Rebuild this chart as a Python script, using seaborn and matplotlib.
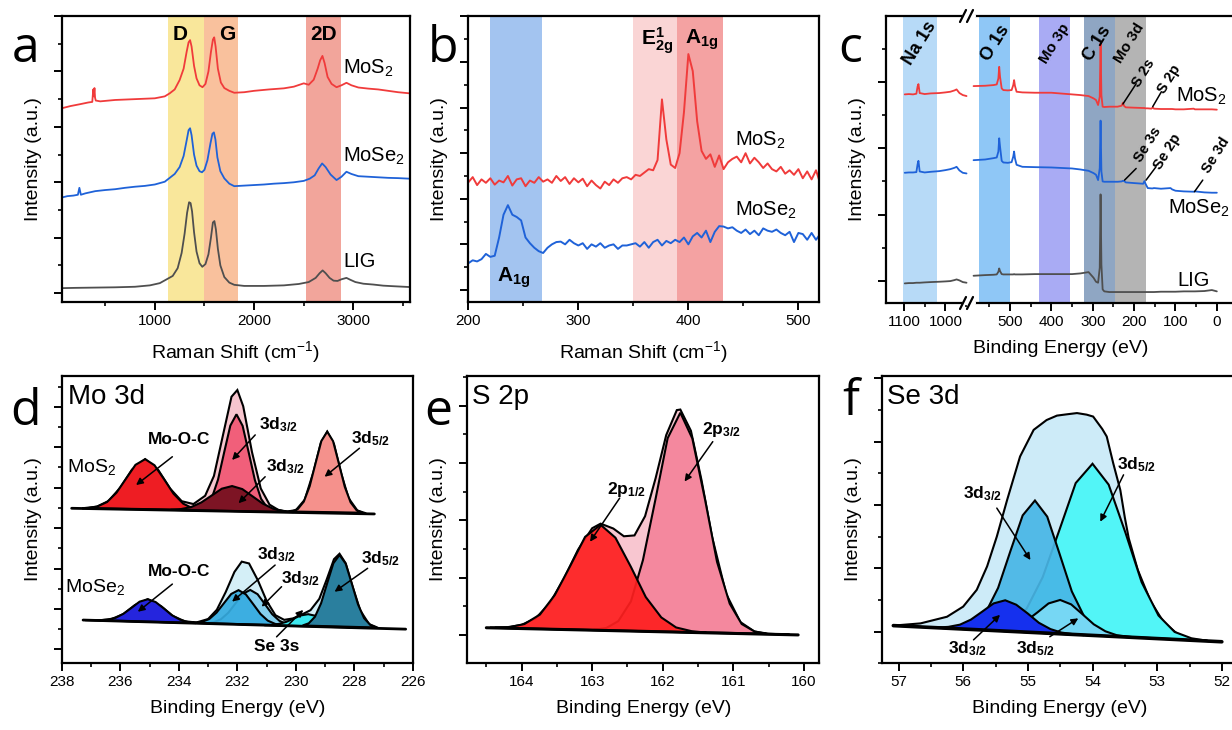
import matplotlib
matplotlib.use("Agg")
import matplotlib.pyplot as plt
import seaborn as sns
from matplotlib.colors import to_rgba
from matplotlib.lines import Line2D
from matplotlib.ticker import MultipleLocator, NullLocator

# ---------------- (a) Raman, wide range ----------------
a_lig_x = [62, 200, 400, 600, 800, 950, 1050, 1120, 1180, 1230, 1270, 1300, 1325, 1345, 1360,
           1375, 1395, 1420, 1450, 1478, 1510, 1540, 1565, 1585, 1600, 1615, 1635, 1660, 1700, 1750,
           1800, 1900, 2100, 2300, 2450, 2550, 2620, 2660, 2690, 2720, 2760, 2800, 2840, 2880, 2930,
           2970, 3020, 3100, 3200, 3300, 3400, 3565]
a_lig_y = [0.18, 0.19, 0.2, 0.21, 0.23, 0.28, 0.36, 0.5, 0.62, 0.9, 1.45, 2.15, 2.9, 3.28, 3.25,
           2.95, 2.2, 1.5, 1.08, 0.95, 1.05, 1.4, 2.0, 2.55, 2.6, 2.3, 1.6, 1.0, 0.58, 0.38,
           0.3, 0.26, 0.26, 0.28, 0.33, 0.4, 0.55, 0.72, 0.82, 0.72, 0.55, 0.45, 0.44, 0.5, 0.55,
           0.48, 0.4, 0.34, 0.31, 0.27, 0.25, 0.22]
a_mose2_x = [62, 120, 180, 225, 240, 255, 300, 400, 500, 600, 700, 800, 900, 1000, 1100,
             1200, 1250, 1290, 1320, 1340, 1355, 1370, 1395, 1420, 1450, 1475, 1500, 1530, 1560, 1580,
             1595, 1610, 1630, 1660, 1700, 1750, 1800, 1900, 2000, 2100, 2200, 2300, 2400, 2500, 2560,
             2610, 2650, 2685, 2720, 2770, 2830, 2880, 2930, 2980, 3050, 3150, 3250, 3350, 3450, 3565]
a_mose2_y = [3.45, 3.5, 3.52, 3.55, 3.8, 3.55, 3.6, 3.68, 3.72, 3.75, 3.8, 3.84, 3.87, 3.92, 4.02,
             4.3, 4.55, 4.95, 5.5, 5.88, 5.95, 5.7, 5.0, 4.6, 4.4, 4.36, 4.45, 4.8, 5.4, 5.75,
             5.8, 5.55, 4.9, 4.4, 4.14, 3.95, 3.86, 3.88, 3.9, 3.92, 3.95, 3.97, 4.0, 4.05, 4.13,
             4.25, 4.5, 4.68, 4.55, 4.28, 4.08, 4.2, 4.38, 4.3, 4.22, 4.2, 4.18, 4.16, 4.15, 4.13]
a_mos2_x = [62, 150, 250, 330, 370, 380, 385, 392, 398, 405, 450, 600, 800, 1000, 1100,
            1150, 1200, 1250, 1290, 1320, 1340, 1355, 1370, 1395, 1420, 1450, 1480, 1510, 1540, 1565,
            1585, 1598, 1612, 1635, 1665, 1700, 1750, 1800, 1900, 2000, 2150, 2300, 2400, 2500, 2550,
            2600, 2640, 2665, 2688, 2710, 2740, 2780, 2830, 2880, 2930, 2980, 3050, 3150, 3250, 3350,
            3450, 3565]
a_mos2_y = [6.67, 6.75, 6.82, 6.88, 6.9, 7.35, 7.1, 7.4, 7.05, 6.95, 6.92, 6.97, 7.0, 7.03, 7.1,
            7.21, 7.35, 7.69, 8.1, 8.7, 9.05, 9.13, 8.9, 8.2, 7.75, 7.5, 7.43, 7.55, 8.0, 8.7,
            9.15, 9.23, 8.9, 8.1, 7.6, 7.4, 7.3, 7.23, 7.25, 7.3, 7.35, 7.39, 7.45, 7.57, 7.52,
            7.7, 8.1, 8.4, 8.56, 8.3, 7.8, 7.55, 7.43, 7.5, 7.59, 7.5, 7.42, 7.38, 7.35, 7.3,
            7.25, 7.21]
# band: start, end, colour, label, label x
a_bands = [(1134, 1492, "#F9E79B", "D", 1258), (1492, 1838, "#F9C19D", "G", 1727),
           (2524, 2873, "#F2A59B", "2D", 2698)]

# ---------------- (b) Raman, low range ----------------
b_shift = [200, 204, 208, 212, 216, 220, 224, 228, 232, 236, 240, 244, 248, 252, 256, 260,
           264, 268, 272, 276, 280, 284, 288, 292, 296, 300, 304, 308, 312, 316, 320, 324,
           328, 332, 336, 340, 344, 348, 352, 356, 360, 364, 368, 372, 376, 380, 384, 388,
           392, 396, 400, 404, 408, 412, 416, 420, 424, 428, 432, 436, 440, 444, 448, 452,
           456, 460, 464, 468, 472, 476, 480, 484, 488, 492, 496, 500, 504, 508, 512, 516, 519]
b_mos2 = [4.72, 4.95, 4.6, 4.85, 4.7, 4.9, 4.62, 4.8, 4.72, 5.0, 4.58, 4.85, 4.9, 4.55, 4.8, 4.7,
          4.95, 4.75, 4.85, 4.7, 5.0, 4.78, 4.95, 4.65, 4.9, 4.72, 4.88, 4.55, 4.8, 4.6, 4.45, 4.75,
          4.6, 4.85, 4.7, 4.9, 4.95, 4.85, 5.05, 5.0, 5.15, 5.3, 5.25, 5.7, 8.36, 6.6, 5.5, 5.35,
          6.0, 7.8, 10.35, 9.6, 7.4, 6.1, 5.75, 5.95, 5.4, 5.9, 5.3, 5.6, 5.75, 5.85, 5.6, 6.0,
          5.55, 5.8, 5.6, 5.35, 5.55, 5.3, 5.2, 5.4, 5.1, 5.25, 5.05, 5.3, 4.9, 5.2, 4.85, 5.25, 4.8]
b_mose2 = [1.17, 1.3, 1.25, 1.35, 1.58, 1.45, 1.5, 2.3, 3.3, 3.72, 3.3, 3.2, 3.05, 2.3, 2.05, 1.85,
           1.7, 1.62, 1.85, 2.0, 2.1, 2.12, 2.0, 2.2, 2.05, 1.95, 2.05, 1.8, 2.0, 1.9, 2.05, 1.85,
           1.95, 2.0, 1.8, 1.95, 1.95, 2.0, 2.05, 1.9, 2.1, 1.85, 2.1, 2.2, 1.95, 2.15, 2.05, 2.2,
           2.1, 2.3, 2.0, 2.35, 2.5, 2.3, 2.6, 2.1, 2.55, 2.8, 2.78, 2.7, 2.75, 2.6, 2.5, 2.65,
           2.45, 2.6, 2.4, 2.7, 2.6, 2.55, 2.65, 2.5, 2.4, 2.55, 2.1, 2.5, 2.45, 2.2, 2.5, 2.2, 2.4]
b_bands = [(219.7, 266.7, "#A3C4F0"), (350, 390, "#FAD5D5"), (390, 431.8, "#F4A2A2")]

# ---------------- (c) XPS survey (broken axis) ----------------
c_left_energy = [1098, 1088, 1078, 1070, 1067, 1065, 1062, 1050, 1035, 1015, 1000, 988, 978, 973, 966, 958, 949]
c_left_mos2 = [5.62, 5.63, 5.62, 5.64, 5.86, 5.93, 5.66, 5.63, 5.65, 5.66, 5.68, 5.7, 5.74, 5.77, 5.66, 5.6, 5.57]
c_left_mose2 = [3.26, 3.27, 3.27, 3.28, 3.52, 3.62, 3.3, 3.27, 3.29, 3.31, 3.34, 3.37, 3.41, 3.44, 3.33, 3.26, 3.24]
c_left_lig = [-0.07, -0.06, -0.06, -0.05, -0.05, -0.05, -0.05, -0.04, -0.03, -0.02, -0.01, 0.0, 0.03, 0.05,
              0.02, -0.03, -0.05]
c_right_energy = [588, 560, 540, 532, 528, 526, 524, 520, 516, 505, 496, 492, 490, 488, 484, 470, 440, 400,
                  350, 330, 310, 298, 292, 287, 283, 281, 279, 276, 272, 260, 240, 230, 227, 224, 220, 200,
                  178, 175, 172, 167, 158, 155, 152, 135, 112, 108, 100, 80, 56, 53, 30, 12, 0]
c_right_mos2 = [5.87, 5.88, 5.9, 5.92, 6.1, 6.45, 6.15, 5.8, 5.75, 5.74, 5.75, 5.9, 6.05, 5.88, 5.7, 5.68,
                5.67, 5.67, 5.62, 5.6, 5.57, 5.5, 5.45, 5.3, 5.55, 7.16, 5.6, 5.25, 5.24, 5.25, 5.25, 5.28,
                5.37, 5.27, 5.23, 5.22, 5.21, 5.21, 5.2, 5.2, 5.19, 5.23, 5.19, 5.18, 5.18, 5.18, 5.17,
                5.17, 5.19, 5.17, 5.17, 5.17, 5.16]
c_right_mose2 = [3.64, 3.66, 3.7, 3.72, 3.9, 4.3, 4.05, 3.62, 3.57, 3.56, 3.58, 3.75, 3.9, 3.7, 3.5, 3.44,
                 3.43, 3.42, 3.39, 3.36, 3.32, 3.25, 3.2, 3.04, 3.4, 4.83, 3.3, 3.0, 2.99, 2.99, 2.99, 3.0,
                 3.02, 3.01, 2.97, 2.95, 2.93, 3.01, 2.92, 2.8, 2.79, 2.79, 2.8, 2.78, 2.8, 2.76, 2.72,
                 2.7, 2.69, 2.7, 2.67, 2.66, 2.66]
c_right_lig = [0.16, 0.18, 0.19, 0.2, 0.28, 0.38, 0.3, 0.21, 0.2, 0.2, 0.2, 0.2, 0.21, 0.2, 0.2, 0.2,
               0.21, 0.21, 0.21, 0.23, 0.27, 0.1, -0.02, -0.05, 0.4, 2.61, 0.5, -0.25, -0.31, -0.33, -0.33,
               -0.33, -0.33, -0.33, -0.33, -0.33, -0.33, -0.33, -0.33, -0.33, -0.33, -0.33, -0.33, -0.32,
               -0.32, -0.32, -0.32, -0.31, -0.31, -0.31, -0.3, -0.27, -0.31]
# band: start, end, colour, label, label x, label size
c_bands = [(574, 500, "#8FC7F6", "O 1s", 536, 13), (429, 354, "#A9ABF4", "Mo 3p", 392, 11),
           (322, 245, "#8FA6C3", "C 1s", 288, 13), (245, 171, "#B4B4B4", "Mo 3d", 211, 11)]
# peak marker: line start, line end, label, label position
c_marks = [((227, 5.33), (195, 5.94), "S 2s", (177, 6.25)),
           ((155, 5.25), (134, 5.7), "S 2p", (116, 6.07)),
           ((223, 3.04), (195, 3.39), "Se 3s", (168, 4.1)),
           ((171, 3.04), (147, 3.44), "Se 2p", (119, 3.9)),
           ((54, 2.69), (34, 3.04), "Se 3d", (3, 3.8))]

# ---------------- (d) Mo 3d ----------------
d1_base_x = [237.66, 227.32]
d1_base_y = [6.98, 6.70]
d1_env_x = [237.3, 236.8, 236.4, 236.0, 235.6, 235.15, 234.7, 234.3, 233.9, 233.5, 233.1, 232.8, 232.5,
            232.2, 232.0, 231.8, 231.5, 231.2, 230.9, 230.6, 230.3, 230.0, 229.7, 229.4, 229.15, 228.93,
            228.7, 228.45, 228.2, 227.9, 227.6]
d1_env_y = [6.98, 7.06, 7.34, 8.0, 8.89, 9.41, 8.87, 7.96, 7.33, 7.19, 7.6, 8.58, 10.54, 12.5, 12.83,
            12.03, 9.76, 7.96, 7.16, 6.9, 6.82, 6.89, 7.4, 8.78, 10.21, 10.77, 10.16, 8.69, 7.48, 6.87, 6.73]
d1_mooc_x = [237.1, 236.78, 236.45, 236.13, 235.8, 235.48, 235.15, 234.83, 234.5, 234.18, 233.85, 233.53, 233.2]
d1_mooc_y = [6.99, 7.07, 7.29, 7.75, 8.45, 9.13, 9.41, 9.11, 8.41, 7.70, 7.21, 6.98, 6.89]
d1_d32a_x = [233.29, 233.08, 232.87, 232.66, 232.45, 232.24, 232.03, 231.82, 231.61, 231.40, 231.19, 230.98, 230.77]
d1_d32a_y = [6.92, 7.07, 7.50, 8.40, 9.75, 11.07, 11.63, 11.06, 9.73, 8.37, 7.45, 7.01, 6.85]
d1_d32b_x = [234.28, 233.93, 233.58, 233.23, 232.88, 232.53, 232.18, 231.83, 231.48, 231.13, 230.78, 230.43, 230.08]
d1_d32b_y = [6.90, 6.94, 7.04, 7.27, 7.61, 7.95, 8.08, 7.93, 7.57, 7.21, 6.96, 6.84, 6.79]
d1_d52_x = [230.13, 229.93, 229.73, 229.53, 229.33, 229.13, 228.93, 228.73, 228.53, 228.33, 228.13, 227.93, 227.73]
d1_d52_y = [6.82, 6.95, 7.31, 8.07, 9.20, 10.31, 10.77, 10.30, 9.18, 8.04, 7.27, 6.89, 6.76]

d2_base_x = [237.27, 226.25]
d2_base_y = [1.45, 1.0]
d2_env_x = [237.2, 236.7, 236.3, 235.9, 235.5, 235.06, 234.6, 234.2, 233.8, 233.4, 233.0, 232.7, 232.4,
            232.1, 231.85, 231.6, 231.3, 231.0, 230.7, 230.4, 230.1, 229.8, 229.5, 229.2, 228.95, 228.7,
            228.51, 228.3, 228.05, 227.8, 227.5, 227.2]
d2_env_y = [1.45, 1.44, 1.50, 1.74, 2.19, 2.48, 2.13, 1.65, 1.39, 1.33, 1.50, 1.96, 2.83, 3.83, 4.34,
            4.25, 3.42, 2.40, 1.69, 1.46, 1.53, 1.72, 1.94, 2.50, 3.45, 4.46, 4.73, 4.26, 3.04, 1.92,
            1.25, 1.07]
d2_mooc_x = [236.71, 236.44, 236.16, 235.89, 235.61, 235.34, 235.06, 234.79, 234.51, 234.24, 233.96, 233.69, 233.41]
d2_mooc_y = [1.44, 1.47, 1.56, 1.76, 2.06, 2.36, 2.48, 2.34, 2.02, 1.69, 1.47, 1.35, 1.30]
d2_d32a_x = [233.46, 233.21, 232.96, 232.71, 232.46, 232.21, 231.96, 231.71, 231.46, 231.21, 230.96, 230.71, 230.46]
d2_d32a_y = [1.31, 1.36, 1.50, 1.82, 2.28, 2.74, 2.93, 2.72, 2.24, 1.75, 1.42, 1.26, 1.19]
d2_d32b_x = [233.06, 232.81, 232.56, 232.31, 232.06, 231.81, 231.56, 231.31, 231.06, 230.81, 230.56, 230.31, 230.06]
d2_d32b_y = [1.30, 1.34, 1.49, 1.81, 2.28, 2.75, 2.94, 2.73, 2.24, 1.74, 1.41, 1.24, 1.17]
d2_se3s_x = [231.08, 230.83, 230.58, 230.33, 230.08, 229.83, 229.58, 229.33, 229.08, 228.83, 228.58, 228.33, 228.08]
d2_se3s_y = [1.20, 1.21, 1.26, 1.36, 1.52, 1.68, 1.74, 1.66, 1.48, 1.30, 1.18, 1.11, 1.08]
d2_d52_x = [229.77, 229.56, 229.35, 229.14, 228.93, 228.72, 228.51, 228.30, 228.09, 227.88, 227.67, 227.46, 227.25]
d2_d52_y = [1.18, 1.29, 1.61, 2.28, 3.28, 4.26, 4.67, 4.24, 3.25, 2.23, 1.54, 1.21, 1.08]

# ---------------- (e) S 2p ----------------
e_base_x = [164.5, 160.08]
e_base_y = [0.25, 0.0]
e_env_x = [164.45, 164.2, 164.0, 163.8, 163.6, 163.4, 163.2, 163.0, 162.88, 162.7, 162.55, 162.4, 162.25,
           162.1, 161.95, 161.8, 161.75, 161.6, 161.45, 161.3, 161.1, 160.9, 160.7, 160.5, 160.2]
e_env_y = [0.25, 0.27, 0.35, 0.58, 1.11, 1.96, 2.97, 3.72, 3.88, 3.71, 3.44, 3.47, 4.14, 5.47, 6.97,
           7.84, 7.86, 7.12, 5.40, 3.42, 1.43, 0.45, 0.12, 0.04, 0.01]
e_p32_x = [162.98, 162.8, 162.63, 162.45, 162.28, 162.1, 161.93, 161.75, 161.58, 161.4, 161.23, 161.05,
           160.88, 160.7, 160.53]
e_p32_y = [0.18, 0.24, 0.48, 1.17, 2.61, 4.76, 6.86, 7.75, 6.85, 4.72, 2.55, 1.09, 0.38, 0.12, 0.04]
e_p12_x = [164.38, 164.17, 163.96, 163.74, 163.53, 163.31, 163.1, 162.88, 162.67, 162.45, 162.24, 162.02,
           161.81, 161.59, 161.38]
e_p12_y = [0.25, 0.27, 0.38, 0.71, 1.39, 2.41, 3.42, 3.84, 3.39, 2.37, 1.32, 0.61, 0.26, 0.13, 0.08]

# ---------------- (f) Se 3d ----------------
f_base_x = [57.08, 52.0]
f_base_y = [0.19, -0.32]
f_env_x = [57.08, 56.66, 56.25, 56.0, 55.79, 55.63, 55.48, 55.32, 55.12, 54.91, 54.71, 54.55, 54.4, 54.24,
           54.09, 53.99, 53.85, 53.78, 53.68, 53.57, 53.5, 53.44, 53.3, 53.1, 52.9, 52.7, 52.5, 52.2]
f_env_y = [0.19, 0.26, 0.47, 0.79, 1.32, 2.06, 3.0, 4.16, 5.53, 6.37, 6.68, 6.82, 6.86, 6.9,
           6.85, 6.79, 6.4, 6.16, 5.32, 4.47, 3.6, 2.95, 1.95, 0.95, 0.3, -0.05, -0.24, -0.3]
f_d52_x = [55.79, 55.53, 55.28, 55.02, 54.77, 54.51, 54.26, 54.0, 53.75, 53.49, 53.24, 52.98, 52.73, 52.47, 52.22]
f_d52_y = [0.07, 0.09, 0.25, 0.72, 1.72, 3.22, 4.69, 5.30, 4.64, 3.12, 1.56, 0.51, -0.01, -0.21, -0.29]
f_d32_x = [56.22, 56.03, 55.84, 55.65, 55.46, 55.27, 55.08, 54.89, 54.70, 54.51, 54.32, 54.13, 53.94, 53.75, 53.56]
f_d32_y = [0.11, 0.13, 0.25, 0.61, 1.38, 2.54, 3.67, 4.14, 3.63, 2.46, 1.27, 0.48, 0.06, -0.1, -0.16]
f_s52_x = [55.73, 55.55, 55.38, 55.2, 55.03, 54.85, 54.68, 54.5, 54.33, 54.15, 53.98, 53.8, 53.63, 53.45, 53.28]
f_s52_y = [0.06, 0.05, 0.07, 0.15, 0.33, 0.61, 0.89, 1.0, 0.86, 0.54, 0.23, 0.01, -0.11, -0.16, -0.19]
f_s32_x = [56.58, 56.4, 56.23, 56.05, 55.88, 55.7, 55.53, 55.35, 55.18, 55.0, 54.83, 54.65, 54.48, 54.3, 54.13]
f_s32_y = [0.14, 0.13, 0.15, 0.22, 0.38, 0.64, 0.89, 0.99, 0.85, 0.57, 0.28, 0.08, -0.03, -0.08, -0.11]

RED, BLUE, GREY = "#F03B3B", "#1F62D8", "#4F4F4F"

sns.set_theme(style="ticks", rc={
    "axes.edgecolor": "black", "axes.linewidth": 1.6,
    "xtick.color": "black", "ytick.color": "black",
    "axes.labelcolor": "black", "text.color": "black",
})
plt.rcParams["font.family"] = ["Liberation Sans", "DejaVu Sans"]
plt.rcParams["mathtext.fontset"] = "custom"
plt.rcParams["mathtext.rm"] = "Liberation Sans"
plt.rcParams["mathtext.it"] = "Liberation Sans:italic"
plt.rcParams["mathtext.bf"] = "Liberation Sans:bold"

W, H = 1232, 730
fig = plt.figure(figsize=(W / 100, H / 100), dpi=100)


def add_axes(left, top, right, bottom):
    return fig.add_axes([left / W, 1 - bottom / H, (right - left) / W, (bottom - top) / H])


def style(ax, xmaj, xmin, yticks=True):
    ax.xaxis.set_major_locator(MultipleLocator(xmaj))
    ax.xaxis.set_minor_locator(MultipleLocator(xmin))
    if yticks:
        ax.yaxis.set_major_locator(MultipleLocator(2))
        ax.yaxis.set_minor_locator(MultipleLocator(1))
    else:
        ax.yaxis.set_major_locator(NullLocator())
        ax.yaxis.set_minor_locator(NullLocator())
    ax.tick_params(which="major", direction="out", length=5.5, width=1.4, labelsize=11, pad=3)
    ax.tick_params(which="minor", direction="out", length=3, width=1.2)
    ax.tick_params(axis="y", labelleft=False)
    for s in ax.spines.values():
        s.set_linewidth(1.6)


def spectrum(ax, x, y, color, lw=1.3):
    sns.lineplot(x=x, y=y, ax=ax, color=color, lw=lw, sort=False, estimator=None, legend=False)


def peak(ax, x, y, color, alpha=1.0, lw=1.5):
    ax.fill(x, y, facecolor=to_rgba(color, alpha), edgecolor="black", lw=lw)


def arrow(ax, start, tip):
    ax.annotate("", xy=tip, xytext=start,
                arrowprops=dict(arrowstyle="-|>", color="black", lw=1.1, mutation_scale=10,
                                shrinkA=0, shrinkB=0))


def blabel(ax, x, y, s, size=12.5, **kw):
    ax.text(x, y, s, fontsize=size, fontweight="bold", ha="center", va="center", **kw)


def intensity(ax):
    ax.set_ylabel("Intensity (a.u.)", fontsize=14, labelpad=8)


# ---- (a)
ax = add_axes(61.7, 16, 409.5, 302)
for x0, x1, col, lab, xt in a_bands:
    ax.axvspan(x0, x1, color=col, lw=0, zorder=0)
    ax.text(xt, 9.13, lab, fontsize=15, fontweight="bold", ha="center", va="baseline")
spectrum(ax, a_lig_x, a_lig_y, GREY)
spectrum(ax, a_mose2_x, a_mose2_y, BLUE)
spectrum(ax, a_mos2_x, a_mos2_y, RED)
ax.text(2896, 8.12, "MoS$_2$", fontsize=14.5, va="center")
ax.text(2896, 4.92, "MoSe$_2$", fontsize=14.5, va="center")
ax.text(2896, 1.13, "LIG", fontsize=14.5, va="center")
ax.set_xlim(62, 3565)
ax.set_ylim(-0.32, 10)
style(ax, 1000, 500)
ax.set_xlabel("Raman Shift (cm$^{-1}$)", fontsize=14, labelpad=8)
intensity(ax)

# ---- (b)
ax = add_axes(468.3, 16, 819.3, 302)
for x0, x1, col in b_bands:
    ax.axvspan(x0, x1, color=col, lw=0, zorder=0)
spectrum(ax, b_shift, b_mos2, RED, lw=1.4)
spectrum(ax, b_shift, b_mose2, BLUE, lw=1.4)
ax.text(371.3, 10.75, r"E$^\mathbf{1}_\mathbf{2g}$", fontsize=15, fontweight="bold", ha="center", va="baseline")
ax.text(412.2, 10.82, r"A$_\mathbf{1g}$", fontsize=15, fontweight="bold", ha="center", va="baseline")
ax.text(241.6, 0.36, r"A$_\mathbf{1g}$", fontsize=15, fontweight="bold", ha="center", va="baseline")
ax.text(442.5, 6.58, "MoS$_2$", fontsize=14.5, va="center")
ax.text(442.5, 3.51, "MoSe$_2$", fontsize=14.5, va="center")
ax.set_xlim(200, 519)
ax.set_ylim(-0.53, 12.02)
style(ax, 100, 50)
ax.set_xlabel("Raman Shift (cm$^{-1}$)", fontsize=14, labelpad=8)
intensity(ax)

# ---- (c) broken survey axis
cl = add_axes(885.7, 16, 969, 303)
cr = add_axes(969, 16, 1240, 303)
cl.axvspan(1103, 1021, color="#B7DAF7", lw=0, zorder=0)
cl.text(1061, 7.15, "Na 1s", fontsize=13, fontweight="bold", rotation=58, ha="center", va="center")
for x0, x1, col, lab, xt, fs in c_bands:
    cr.axvspan(x0, x1, color=col, lw=0, zorder=0)
    cr.text(xt, 7.15, lab, fontsize=fs, fontweight="bold", rotation=58, ha="center", va="center")
spectrum(cl, c_left_energy, c_left_lig, GREY)
spectrum(cl, c_left_energy, c_left_mose2, BLUE)
spectrum(cl, c_left_energy, c_left_mos2, RED)
spectrum(cr, c_right_energy, c_right_lig, GREY)
spectrum(cr, c_right_energy, c_right_mose2, BLUE)
spectrum(cr, c_right_energy, c_right_mos2, RED)
for (x0, y0), (x1, y1), lab, (xt, yt) in c_marks:
    cr.plot([x0, x1], [y0, y1], color="black", lw=1.1)
    cr.text(xt, yt, lab, fontsize=10.5, fontweight="bold", rotation=58, ha="center", va="center")
cr.text(98, 5.55, "MoS$_2$", fontsize=14.5, va="center")
cr.text(118, 2.2, "MoSe$_2$", fontsize=14.5, va="center")
cr.text(95, 0.03, "LIG", fontsize=14.5, va="center")
cl.set_xlim(1144, 943)
cr.set_xlim(599, -56)
for a_ in (cl, cr):
    a_.set_ylim(-0.66, 7.98)
style(cl, 100, 50)
style(cr, 100, 50, yticks=False)
cl.spines["right"].set_visible(False)
cr.spines["left"].set_visible(False)
intensity(cl)
cr.set_xlabel("Binding Energy (eV)", fontsize=14, labelpad=8)
cr.xaxis.label.set_x(0.34)


def fig_line(x0, y0, x1, y1, **kw):
    fig.add_artist(Line2D([x0 / W, x1 / W], [1 - y0 / H, 1 - y1 / H], transform=fig.transFigure, **kw))


for yb in (16, 303):
    fig_line(964, yb, 974, yb, color="white", lw=3)
    fig_line(960, yb + 6, 966, yb - 6, color="black", lw=1.6)
    fig_line(967, yb + 6, 973, yb - 6, color="black", lw=1.6)

# ---- (d) Mo 3d
ax = add_axes(61.7, 375.7, 413, 663.3)
peak(ax, d1_env_x, d1_env_y, "#F7C5CE")
peak(ax, d1_mooc_x, d1_mooc_y, "#EE1D23")
peak(ax, d1_d32a_x, d1_d32a_y, "#F15F7A")
peak(ax, d1_d32b_x, d1_d32b_y, "#7D1424")
peak(ax, d1_d52_x, d1_d52_y, "#F5918C")
ax.plot(d1_base_x, d1_base_y, color="black", lw=2)
peak(ax, d2_env_x, d2_env_y, "#D4EFF7")
peak(ax, d2_mooc_x, d2_mooc_y, "#2525DD")
peak(ax, d2_d32b_x, d2_d32b_y, "#86D0EE")
peak(ax, d2_d32a_x, d2_d32a_y, "#36ACE0", alpha=0.92)
peak(ax, d2_se3s_x, d2_se3s_y, "#3DE7EE")
peak(ax, d2_d52_x, d2_d52_y, "#2A7F9E")
ax.plot(d2_base_x, d2_base_y, color="black", lw=2)
ax.text(237.78, 12.5, "Mo 3d", fontsize=20, va="center")
ax.text(237.83, 9.04, "MoS$_2$", fontsize=14, va="center")
ax.text(237.89, 3.1, "MoSe$_2$", fontsize=14, va="center")
blabel(ax, 233.99, 10.36, "Mo-O-C")
arrow(ax, (234.22, 9.53), (235.46, 8.13))
blabel(ax, 230.6, 11.1, r"3d$_\mathbf{3/2}$")
arrow(ax, (231.39, 10.61), (232.18, 9.37))
blabel(ax, 230.37, 9.04, r"3d$_\mathbf{3/2}$")
arrow(ax, (231.05, 8.54), (231.96, 7.23))
blabel(ax, 227.44, 10.45, r"3d$_\mathbf{5/2}$")
arrow(ax, (227.83, 9.95), (229.02, 8.54))
blabel(ax, 233.99, 3.84, "Mo-O-C")
arrow(ax, (234.22, 3.23), (235.4, 1.86))
blabel(ax, 230.66, 4.67, r"3d$_\mathbf{3/2}$")
arrow(ax, (230.71, 4.17), (232.18, 2.36))
blabel(ax, 229.86, 3.51, r"3d$_\mathbf{3/2}$")
arrow(ax, (230.49, 3.1), (231.17, 2.11))
blabel(ax, 227.1, 4.5, r"3d$_\mathbf{5/2}$")
arrow(ax, (227.55, 4.01), (228.68, 2.85))
blabel(ax, 230.66, 0.13, "Se 3s")
arrow(ax, (230.66, 0.62), (229.75, 1.95))
ax.set_xlim(238, 226)
ax.set_ylim(-0.69, 13.54)
style(ax, 2, 1)
ax.set_xlabel("Binding Energy (eV)", fontsize=14, labelpad=8)
intensity(ax)

# ---- (e) S 2p
ax = add_axes(467.3, 375.7, 819.3, 663.3)
peak(ax, e_env_x, e_env_y, "#F8C6D0")
peak(ax, e_p32_x, e_p32_y, "#F4889E")
peak(ax, e_p12_x, e_p12_y, "#FE2020", alpha=0.93)
ax.plot(e_base_x, e_base_y, color="black", lw=2.2)
ax.text(164.71, 8.31, "S 2p", fontsize=20, va="center")
blabel(ax, 162.51, 5.06, r"2p$_\mathbf{1/2}$")
arrow(ax, (162.61, 4.77), (163.03, 3.25))
blabel(ax, 161.17, 7.15, r"2p$_\mathbf{3/2}$")
arrow(ax, (161.29, 6.74), (161.69, 5.35))
ax.set_xlim(164.77, 159.78)
ax.set_ylim(-0.99, 9.04)
style(ax, 1, 0.5)
ax.set_xlabel("Binding Energy (eV)", fontsize=14, labelpad=8)
intensity(ax)

# ---- (f) Se 3d
ax = add_axes(881.7, 375.7, 1238, 663.3)
peak(ax, f_env_x, f_env_y, "#CDEBF8")
peak(ax, f_d52_x, f_d52_y, "#52F5F7")
peak(ax, f_d32_x, f_d32_y, "#48B6E6", alpha=0.92)
peak(ax, f_s52_x, f_s52_y, "#76D7F4")
peak(ax, f_s32_x, f_s32_y, "#1530EE")
ax.plot(f_base_x, f_base_y, color="black", lw=2.6)
ax.text(57.18, 7.42, "Se 3d", fontsize=20, va="center")
blabel(ax, 55.71, 4.37, r"3d$_\mathbf{3/2}$")
arrow(ax, (55.48, 3.9), (54.96, 2.26))
blabel(ax, 53.32, 5.26, r"3d$_\mathbf{5/2}$")
arrow(ax, (53.52, 4.95), (53.88, 3.47))
blabel(ax, 55.94, -0.53, r"3d$_\mathbf{3/2}$")
arrow(ax, (55.84, -0.26), (55.43, 0.53))
blabel(ax, 54.89, -0.53, r"3d$_\mathbf{5/2}$")
arrow(ax, (54.66, -0.16), (54.22, 0.42))
ax.set_xlim(57.26, 51.75)
ax.set_ylim(-1.0, 8.08)
style(ax, 1, 0.5)
ax.set_xlabel("Binding Energy (eV)", fontsize=14, labelpad=8)
intensity(ax)

# ---- panel letters
for lab, px, py in [("a", 12, 62), ("b", 428, 62), ("c", 838, 62),
                    ("d", 10, 425), ("e", 424, 425), ("f", 842, 415)]:
    fig.text(px / W, 1 - py / H, lab, fontsize=36, family=["Open Sans", "DejaVu Sans"], va="baseline")

fig.savefig("out.png", dpi=100, facecolor="white")
